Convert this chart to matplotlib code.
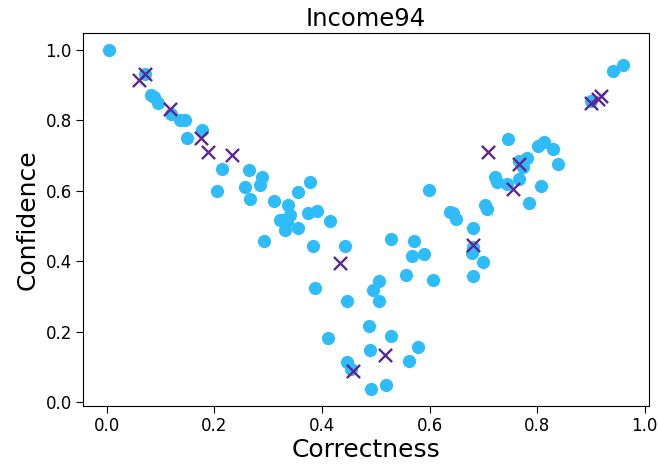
import matplotlib
matplotlib.use("Agg")
import matplotlib.pyplot as plt

circle_x = [0.004, 0.071, 0.082, 0.089, 0.095, 0.119, 0.136, 0.145, 0.150, 0.177,
            0.214, 0.205, 0.264, 0.288, 0.285, 0.257, 0.266, 0.311, 0.322, 0.337,
            0.355, 0.378, 0.374, 0.391, 0.415, 0.327, 0.340, 0.331, 0.355, 0.336,
            0.292, 0.383, 0.443, 0.387, 0.446, 0.506, 0.495, 0.506, 0.528, 0.571,
            0.567, 0.590, 0.556, 0.606, 0.599, 0.638, 0.487, 0.411, 0.528, 0.489,
            0.579, 0.562, 0.446, 0.491, 0.519, 0.960, 0.941, 0.900, 0.746, 0.802,
            0.813, 0.830, 0.839, 0.781, 0.774, 0.722, 0.725, 0.744, 0.767, 0.807,
            0.785, 0.703, 0.707, 0.644, 0.649, 0.681, 0.679, 0.700, 0.681, 0.766,
            0.681, 0.454]
circle_y = [1.000, 0.931, 0.873, 0.865, 0.850, 0.818, 0.801, 0.801, 0.749, 0.772,
            0.663, 0.599, 0.660, 0.640, 0.617, 0.611, 0.576, 0.571, 0.516, 0.559,
            0.597, 0.625, 0.536, 0.542, 0.513, 0.516, 0.530, 0.490, 0.493, 0.510,
            0.458, 0.444, 0.444, 0.323, 0.288, 0.343, 0.317, 0.288, 0.464, 0.458,
            0.415, 0.421, 0.360, 0.346, 0.602, 0.539, 0.216, 0.182, 0.187, 0.147,
            0.156, 0.118, 0.115, 0.037, 0.049, 0.957, 0.940, 0.855, 0.746, 0.726,
            0.738, 0.720, 0.677, 0.692, 0.669, 0.640, 0.625, 0.620, 0.634, 0.614,
            0.565, 0.559, 0.548, 0.536, 0.521, 0.493, 0.424, 0.398, 0.357, 0.685,
            0.440, 0.095]

cross_x = [0.061, 0.071, 0.117, 0.175, 0.188, 0.233, 0.433, 0.458, 0.517, 0.681,
           0.709, 0.766, 0.755, 0.900, 0.919, 0.913]
cross_y = [0.914, 0.931, 0.833, 0.749, 0.709, 0.703, 0.395, 0.089, 0.133, 0.446,
           0.709, 0.677, 0.605, 0.850, 0.870, 0.862]

fig = plt.figure(figsize=(6.58, 4.65), dpi=100)
ax = fig.add_axes([83/658, 1 - 406/465, (649 - 83)/658, (406 - 33)/465])
ax.scatter(circle_x, circle_y, s=72, color="#2ebcfa", zorder=2)
ax.scatter(cross_x, cross_y, s=90, marker="x", color="#5e2590", linewidths=1.7, zorder=3)
ax.set_title("Income94", fontsize=17.5, pad=5)
ax.set_xlabel("Correctness", fontsize=18, labelpad=2)
ax.set_ylabel("Confidence", fontsize=18, labelpad=4)
ax.set_xticks([0.0, 0.2, 0.4, 0.6, 0.8, 1.0])
ax.set_yticks([0.0, 0.2, 0.4, 0.6, 0.8, 1.0])
ax.tick_params(labelsize=12, length=5, pad=3)
fig.savefig("out.png", dpi=100)
